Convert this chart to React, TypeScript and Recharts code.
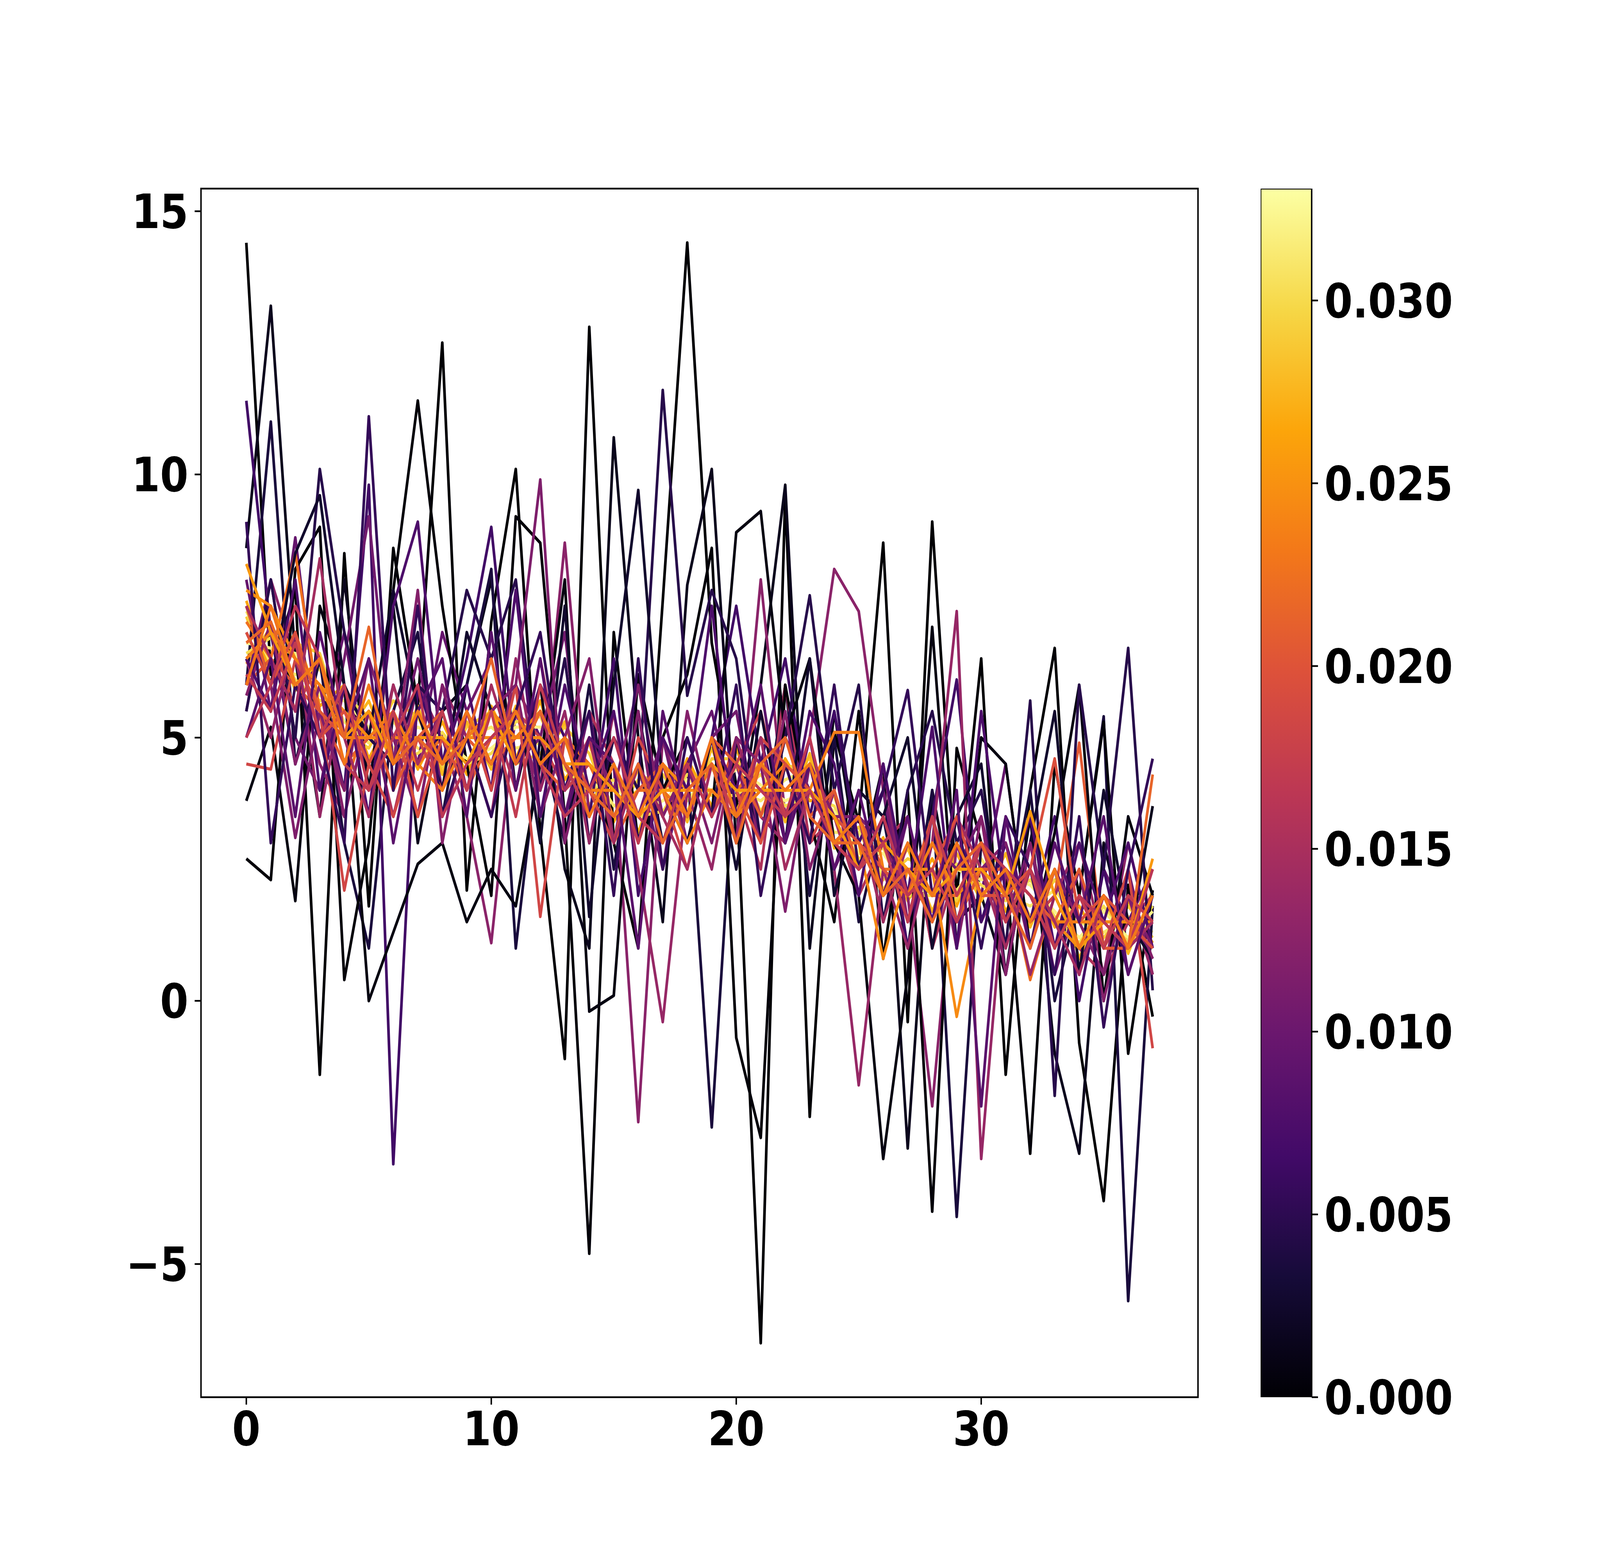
import { Bar, BarChart, Line, LineChart, ReferenceArea, XAxis, YAxis } from "recharts";

// x positions (step index)
const steps = [
  0, 1, 2, 3, 4, 5, 6, 7, 8, 9, 10, 11, 12, 13, 14, 15, 16, 17, 18, 19, 20, 21, 22, 23, 24, 25,
  26, 27, 28, 29, 30, 31, 32, 33, 34, 35, 36, 37,
];

// colour value of each line (colorbar scale)
const lineLevels = [
  0.0, 0.0003, 0.0008, 0.0015, 0.0025, 0.0035, 0.0045, 0.0055, 0.0065, 0.0075, 0.0085, 0.0095,
  0.0105, 0.0115, 0.0125, 0.0135, 0.0145, 0.0155, 0.0165, 0.0175, 0.0185, 0.0195, 0.0205, 0.0215,
  0.0225, 0.0235, 0.0245, 0.0255, 0.0265, 0.0275, 0.029, 0.03, 0.031, 0.032, 0.012, 0.017,
  0.0205, 0.023,
];

const line00 = [14.4, 6.2, 7.8, -1.4, 8.5, 1.8, 8.6, 5.6, 12.5, 2.1, 7.2, 10.1, 3.2, -1.1, 12.8, 3.0, 1.0, 7.6, 14.4, 6.8, 4.1, -6.5, 9.6, -2.2, 5.1, 3.4, 8.7, -0.4, 9.1, 2.0, 6.5, -1.4, 4.0, 6.7, -0.8, -3.8, 2.2, -0.3];
const line01 = [2.7, 2.3, 8.2, 9.0, 0.4, 3.0, 7.8, 11.4, 7.5, 4.5, 2.0, 9.2, 8.7, 3.5, -4.8, 7.0, 3.0, 5.0, 6.2, 8.6, -0.7, -2.6, 6.0, 3.5, 1.5, 5.5, 0.8, 4.0, -4.0, 4.8, 3.0, 2.5, -2.9, 4.5, 2.0, 5.3, -1.0, 2.1];
const line02 = [3.8, 5.2, 1.9, 7.5, 6.0, 0.0, 1.3, 2.6, 3.0, 1.5, 2.5, 1.8, 4.5, 8.0, -0.2, 0.1, 6.2, 4.0, 5.0, 3.5, 8.9, 9.3, 5.0, 6.5, 3.0, 2.0, -3.0, 0.5, 7.1, 1.0, 5.0, 4.5, 1.0, 3.2, 6.0, 0.0, 3.5, 2.0];
const line03 = [8.6, 13.2, 6.5, 3.5, 8.0, 4.0, 7.5, 3.0, 5.5, 6.0, 8.0, 4.0, 6.0, 2.5, 1.0, 10.7, 5.0, 1.5, 7.9, 10.1, 3.0, 6.0, 9.8, 1.0, 5.5, 2.5, 4.5, -2.8, 4.0, 1.5, 2.0, 0.5, 3.5, -1.0, -2.9, 3.0, 1.0, 3.7];
const line04 = [7.5, 6.0, 8.5, 9.6, 6.0, 5.0, 7.8, 5.5, 4.0, 7.0, 5.5, 6.0, 3.0, 7.5, 1.6, 6.0, 9.7, 4.0, 3.0, 5.0, 2.5, 5.5, 3.0, 6.5, 2.0, 4.0, 3.5, 5.0, 1.0, 3.5, 4.5, 0.5, 3.0, 5.5, 0.5, 4.0, 1.5, 0.8];
const line05 = [6.0, 11.0, 4.5, 6.5, 3.0, 1.0, 5.5, 7.0, 3.5, 6.0, 8.2, 1.0, 5.0, 3.0, 6.0, 2.5, 5.5, 3.0, 4.5, -2.4, 5.0, 3.0, 6.0, 2.0, 5.0, 1.5, 3.5, 1.0, 4.0, -4.1, 3.0, 1.5, 4.0, 0.0, 2.0, 5.4, -5.7, 1.8];
const line06 = [5.5, 8.0, 5.0, 10.1, 7.0, 5.0, 4.5, 6.0, 5.5, 7.8, 6.5, 8.0, 4.0, 6.5, 3.0, 5.0, 4.0, 11.6, 5.8, 7.8, 6.5, 3.0, 5.0, 7.7, 4.0, 6.0, 1.5, 4.0, 5.5, 3.0, 4.0, 1.0, 5.7, -1.8, 6.0, 2.5, 6.7, 0.2];
const line07 = [9.1, 3.0, 6.0, 5.0, 3.0, 11.1, 4.0, 7.5, 3.5, 5.0, 3.5, 5.5, 7.0, 4.0, 5.5, 2.0, 6.5, 2.5, 5.0, 3.5, 6.0, 2.0, 4.5, 3.0, 6.0, 2.5, 4.0, 5.9, 2.0, 3.5, 1.0, 3.5, 2.5, 0.5, 3.5, -0.5, 2.5, 4.6];
const line08 = [11.4, 7.0, 4.5, 6.0, 4.0, 9.8, -3.1, 6.0, 4.5, 6.5, 9.0, 4.5, 6.0, 5.0, 3.5, 6.5, 2.0, 4.5, 3.5, 5.0, 7.5, 4.5, 6.5, 3.5, 5.5, 3.0, 4.0, 1.0, 3.5, 6.1, 1.5, 3.0, 1.5, 3.5, 0.0, 2.5, 0.5, 2.0];
const line09 = [6.5, 5.5, 8.0, 4.0, 6.0, 3.5, 7.5, 9.1, 4.5, 6.0, 4.0, 7.8, 3.5, 6.0, 4.0, 5.5, 3.0, 5.0, 4.0, 7.5, 3.5, 5.0, 3.0, 5.5, 4.5, 2.0, 4.5, 2.0, 5.2, 1.0, 5.5, 2.0, 3.5, 1.0, 3.0, 1.5, 3.0, 1.0];
const line10 = [5.0, 6.5, 3.5, 7.0, 5.0, 6.5, 3.0, 5.5, 6.5, 3.5, 7.0, 4.0, 6.5, 3.5, 5.0, 4.5, 1.0, 5.5, 3.5, 5.0, 4.0, 6.0, 3.0, 4.5, 2.5, 4.0, 2.0, 3.5, 1.5, 4.0, -2.0, 3.5, 1.0, 3.0, 1.5, 3.5, 0.5, 2.0];
const line11 = [8.0, 5.5, 8.8, 5.0, 7.0, 4.0, 6.0, 4.5, 7.0, 5.5, 4.0, 6.0, 5.0, 3.5, 5.5, 3.0, 4.5, 2.5, 4.5, 5.5, 3.5, 5.0, 3.0, 5.0, 2.5, 3.5, 1.5, 3.5, 1.0, 3.0, 2.0, 4.5, 1.0, 2.5, 0.5, 2.5, 1.5, 2.5];
const line12 = [6.0, 8.0, 5.0, 4.0, 6.5, 9.2, 4.5, 6.5, 4.0, 5.5, 6.5, 4.5, 5.0, 7.0, 3.0, 5.0, 3.5, 5.0, 3.0, 5.0, 5.5, 3.0, 5.0, 4.0, 3.0, 2.5, 4.0, 1.5, 3.0, 2.5, 3.5, 1.5, 3.0, 0.5, 2.0, 1.0, 2.5, 0.5];
const line13 = [7.0, 6.0, 3.1, 5.5, 4.0, 6.5, 5.0, 3.5, 6.0, 4.0, 5.5, 6.0, 9.9, 3.0, 5.0, 4.0, 6.0, 3.5, 4.5, 3.0, 5.0, 4.5, 1.7, 4.5, 3.5, 3.5, 3.0, 2.0, 3.5, 1.5, 2.5, 3.0, 1.0, 2.5, 1.5, 0.5, 2.0, 1.0];
const line14 = [5.5, 8.0, 6.5, 4.5, 3.5, 5.5, 4.0, 6.0, 5.0, 3.5, 1.1, 5.5, 4.0, 8.7, 3.5, 4.5, -2.3, 5.0, 3.5, 4.5, 3.0, 8.0, 3.5, 5.0, 8.2, 7.4, 4.0, 2.0, -2.0, 3.0, 1.5, 2.5, 2.0, 1.5, 2.5, 0.5, 3.0, 1.0];
const line15 = [6.5, 5.0, 7.0, 3.5, 6.0, 4.5, 5.5, 3.5, 6.0, 5.0, 3.5, 6.5, 4.0, 5.5, 3.0, 5.5, 2.5, -0.4, 4.0, 2.5, 5.0, 3.5, 3.0, 4.5, 2.5, -1.6, 2.5, 1.0, 3.0, 7.4, -3.0, 2.5, 0.5, 2.0, 3.0, 1.0, 2.0, 0.5];
const line16 = [7.5, 6.5, 5.5, 8.4, 5.0, 3.5, 6.0, 4.5, 5.5, 4.0, 6.0, 4.5, 5.5, 4.0, 5.0, 3.0, 4.5, 3.5, 2.5, 4.5, 3.0, 5.0, 2.5, 4.0, 3.0, 3.5, 1.5, 3.0, 2.0, 3.5, 2.5, 1.0, 2.5, 1.5, 0.5, 2.0, 1.0, 1.5];
const line17 = [6.0, 7.5, 6.0, 5.0, 4.0, 5.5, 3.5, 5.5, 4.0, 5.0, 5.5, 4.0, 6.5, 4.0, 5.5, 4.5, 3.0, 4.5, 3.0, 5.0, 4.0, 2.5, 6.0, 3.0, 3.5, 2.0, 3.0, 3.5, 1.0, 2.5, 3.0, 2.0, 1.5, 2.5, 1.0, 0.5, 1.5, 2.0];
const line18 = [5.0, 6.0, 7.5, 6.5, 4.5, 4.0, 5.0, 6.0, 3.5, 4.5, 5.0, 5.5, 4.5, 3.5, 4.0, 5.0, 3.5, 3.0, 4.5, 3.5, 4.5, 4.0, 3.5, 5.0, 3.0, 2.5, 3.5, 2.0, 2.5, 1.5, 3.0, 2.5, 2.0, 1.0, 2.0, 1.5, 1.0, 2.5];
const line19 = [6.5, 7.0, 5.5, 6.5, 5.0, 5.5, 4.0, 5.5, 4.5, 5.5, 4.5, 5.5, 5.0, 4.0, 4.5, 3.5, 4.5, 3.5, 4.5, 3.5, 4.5, 5.5, 3.5, 4.5, 3.0, 3.5, 2.0, 2.5, 1.5, 3.0, 2.0, 2.5, 1.5, 2.0, 1.0, 2.0, 1.0, 1.5];
const line20 = [4.5, 4.4, 6.5, 5.5, 2.1, 4.5, 3.5, 5.0, 4.0, 5.5, 4.0, 6.0, 1.6, 5.0, 4.0, 3.0, 5.0, 4.0, 2.5, 4.5, 3.5, 5.0, 4.5, 3.0, 4.0, 2.5, 3.0, 2.0, 3.0, 2.0, 2.5, 1.5, 2.5, 1.0, 2.0, 1.0, 2.5, -0.9];
const line21 = [7.0, 6.0, 7.0, 5.0, 5.5, 4.5, 5.5, 3.5, 5.0, 4.0, 5.5, 4.5, 5.5, 4.5, 3.5, 4.5, 3.0, 4.5, 3.5, 5.0, 4.0, 3.0, 4.5, 4.0, 3.5, 3.0, 2.5, 2.0, 2.5, 3.5, 2.0, 2.0, 2.5, 4.6, 1.5, 2.0, 1.5, 1.0];
const line22 = [6.0, 6.5, 6.0, 5.5, 4.5, 5.0, 4.5, 5.5, 4.0, 5.0, 4.5, 5.0, 5.5, 4.0, 5.0, 4.0, 3.5, 4.0, 4.5, 3.5, 5.0, 4.5, 4.0, 4.5, 3.0, 3.5, 2.5, 2.5, 2.0, 2.5, 2.5, 2.0, 1.5, 2.0, 4.9, 1.0, 2.0, 1.5];
const line23 = [6.8, 7.2, 6.0, 6.5, 5.0, 7.1, 4.5, 5.0, 4.5, 5.0, 6.5, 4.5, 5.5, 4.5, 4.0, 3.5, 4.5, 3.0, 4.0, 4.5, 3.0, 4.5, 5.0, 3.5, 3.0, 3.0, 2.0, 2.5, 1.5, 2.5, 3.0, 2.0, 1.0, 2.5, 1.0, 2.0, 1.0, 4.3];
const line24 = [7.2, 6.5, 8.5, 5.5, 4.0, 5.5, 5.0, 4.5, 5.0, 4.5, 5.0, 5.5, 4.5, 5.0, 4.5, 3.5, 4.0, 4.0, 3.5, 4.5, 4.0, 4.5, 3.5, 4.0, 3.5, 3.0, 2.5, 2.5, 2.0, 2.0, 2.5, 2.5, 0.4, 2.0, 1.0, 1.5, 1.5, 1.0];
const line25 = [6.5, 7.0, 6.5, 6.0, 5.0, 5.0, 5.5, 4.5, 4.0, 5.0, 5.5, 5.0, 5.5, 4.5, 4.0, 4.0, 3.5, 4.0, 3.0, 4.0, 3.5, 4.0, 4.5, 4.0, 5.1, 5.1, 2.5, 2.0, 3.0, 2.0, 2.5, 2.0, 2.5, 1.5, 1.5, 1.5, 1.0, 2.0];
const line26 = [7.8, 7.5, 6.5, 6.0, 5.5, 5.0, 5.0, 5.0, 4.5, 5.0, 5.0, 5.0, 5.0, 4.5, 4.0, 3.5, 4.0, 4.5, 4.0, 4.0, 3.5, 4.0, 4.0, 4.5, 3.5, 3.0, 0.8, 2.5, 2.5, -0.3, 2.0, 2.5, 2.0, 1.5, 1.0, 1.5, 1.5, 1.5];
const line27 = [8.3, 7.0, 6.0, 6.5, 5.0, 5.5, 4.5, 5.0, 5.0, 4.5, 5.5, 4.5, 5.5, 4.5, 4.5, 4.0, 3.5, 4.0, 4.0, 4.5, 4.0, 4.0, 4.0, 4.0, 3.5, 2.5, 3.0, 2.5, 2.0, 2.5, 2.5, 2.0, 3.6, 2.0, 1.0, 1.5, 1.0, 2.7];
const line28 = [7.6, 6.2, 7.0, 5.6, 6.0, 4.6, 5.5, 4.4, 5.3, 4.3, 5.6, 4.6, 5.7, 4.2, 4.9, 3.4, 4.4, 3.5, 4.6, 3.7, 4.8, 3.5, 4.6, 3.8, 3.9, 2.5, 3.1, 1.9, 2.7, 1.8, 3.0, 1.7, 2.5, 1.4, 1.8, 1.0, 1.9, 1.1];
const line29 = [6.4, 7.1, 5.9, 6.5, 5.0, 5.7, 4.5, 5.6, 4.3, 5.3, 4.4, 5.6, 4.5, 5.3, 3.7, 4.5, 3.2, 4.5, 3.4, 4.8, 3.6, 4.6, 3.4, 4.7, 2.9, 3.5, 2.1, 2.9, 1.7, 2.8, 1.9, 2.8, 1.4, 2.5, 0.8, 2.0, 0.9, 2.1];
const line30 = [7.3, 6.0, 6.8, 6.6, 5.1, 4.8, 5.7, 5.4, 4.4, 5.2, 5.5, 4.5, 4.7, 5.2, 4.7, 3.5, 4.2, 4.3, 3.6, 4.6, 4.6, 3.6, 4.4, 4.6, 3.0, 3.3, 2.3, 2.7, 2.5, 1.9, 2.9, 2.5, 1.6, 2.3, 1.6, 1.2, 1.8, 1.2];
const line31 = [6.6, 6.9, 6.1, 5.7, 5.8, 5.4, 4.6, 4.7, 5.1, 4.5, 4.7, 5.3, 5.4, 4.4, 4.0, 4.2, 3.5, 3.6, 4.3, 3.9, 3.9, 4.3, 3.7, 3.9, 3.7, 2.7, 2.9, 2.0, 2.0, 2.6, 2.2, 1.9, 2.3, 1.6, 1.1, 1.8, 1.1, 1.8];
const line32 = [7.4, 6.4, 6.2, 6.3, 5.3, 4.9, 5.3, 4.8, 4.6, 5.0, 5.2, 4.8, 4.9, 4.5, 4.5, 3.7, 4.0, 4.1, 3.8, 4.4, 4.0, 3.8, 4.2, 4.4, 3.2, 3.2, 2.4, 2.5, 2.4, 2.1, 2.7, 2.0, 1.8, 2.1, 1.5, 1.3, 1.6, 1.3];
const line33 = [6.8, 6.7, 6.6, 5.8, 5.7, 5.2, 4.8, 5.2, 5.0, 4.6, 4.8, 5.2, 5.2, 4.9, 4.1, 4.1, 3.6, 3.8, 4.2, 4.0, 4.4, 4.1, 3.8, 4.0, 3.6, 2.8, 2.8, 2.1, 2.1, 2.5, 2.3, 2.4, 2.2, 1.7, 1.2, 1.7, 1.2, 1.7];
const line34 = [5.8, 7.2, 4.5, 6.0, 3.5, 5.5, 4.5, 7.8, 3.0, 5.5, 4.5, 6.0, 3.5, 5.0, 6.5, 3.0, 5.5, 2.5, 5.5, 3.5, 4.5, 3.0, 5.5, 2.5, 4.0, 2.0, 4.5, 1.5, 3.5, 1.0, 3.5, 0.5, 3.0, 1.0, 2.5, 0.0, 2.0, 0.8];
const line35 = [6.2, 5.5, 6.8, 5.0, 6.0, 4.0, 5.5, 4.0, 5.5, 4.0, 5.5, 3.5, 6.0, 4.5, 3.5, 4.5, 3.0, 4.5, 3.5, 5.0, 3.0, 4.5, 3.5, 4.0, 3.0, 2.5, 3.0, 1.5, 3.5, 2.0, 3.0, 1.5, 2.5, 1.0, 2.0, 1.0, 2.0, 1.5];
const line36 = [7.5, 6.0, 7.0, 5.5, 5.0, 5.5, 4.0, 5.0, 5.5, 4.0, 5.0, 5.5, 4.5, 4.0, 5.0, 3.0, 4.0, 4.5, 3.5, 5.0, 4.5, 3.5, 5.0, 3.5, 4.0, 2.5, 3.5, 2.0, 3.5, 1.5, 2.5, 2.5, 2.0, 1.5, 2.5, 1.0, 1.0, 2.0];
const line37 = [6.0, 7.5, 6.0, 6.5, 4.5, 6.0, 4.5, 5.5, 4.5, 5.5, 4.5, 5.5, 4.5, 5.0, 3.5, 4.5, 3.5, 4.5, 3.5, 5.0, 3.5, 4.5, 4.0, 4.5, 3.0, 3.5, 2.0, 3.0, 2.0, 3.0, 2.0, 2.5, 1.5, 2.5, 1.0, 2.0, 1.0, 2.0];

const lines = [
  line00, line01, line02, line03, line04, line05, line06, line07, line08, line09, line10, line11,
  line12, line13, line14, line15, line16, line17, line18, line19, line20, line21, line22, line23,
  line24, line25, line26, line27, line28, line29, line30, line31, line32, line33, line34, line35,
  line36, line37,
];

// painting order (mixed, the pale lines sit under the orange/red ones)
const drawOrder = [
  28, 30, 0, 32, 11, 3, 29, 14, 5, 31, 17, 1, 33, 8, 22, 2, 12, 19, 6, 24, 15, 4, 34, 26, 9, 20,
  13, 36, 7, 25, 16, 21, 10, 27, 18, 35, 23, 37,
];

const xTicks = [0, 10, 20, 30];
const yTicks = [-5, 0, 5, 10, 15];
const cbarTicks = [0, 0.005, 0.01, 0.015, 0.02, 0.025, 0.03];
const cbarMax = 0.03306;

// inferno colormap anchor colours
const INFERNO = [
  "#000004", "#160b39", "#420a68", "#6a176e", "#932667", "#bc3754",
  "#dd513a", "#f37819", "#fca50a", "#f6d746", "#fcffa4",
];

function inferno(t: number) {
  const v = Math.max(0, Math.min(1, t)) * (INFERNO.length - 1);
  const i = Math.min(INFERNO.length - 2, Math.floor(v));
  const f = v - i;
  const a = INFERNO[i];
  const b = INFERNO[i + 1];
  const ch = (h: string, k: number) => parseInt(h.slice(1 + 2 * k, 3 + 2 * k), 16);
  const mix = [0, 1, 2].map((k) => Math.round(ch(a, k) + (ch(b, k) - ch(a, k)) * f));
  return `rgb(${mix[0]},${mix[1]},${mix[2]})`;
}

const rows = steps.map((x, i) => {
  const row: Record<string, number> = { x };
  lines.forEach((vals, j) => {
    row[`s${j}`] = vals[i];
  });
  return row;
});

const FONT = 122;
const tickStyle = { fontSize: FONT, fontWeight: "bold" as const, fill: "#000", fontFamily: "DejaVu Sans" };
const fmtY = (v: number) => (v < 0 ? `\u2212${Math.abs(v)}` : `${v}`);

export default function App() {
  // the page may be narrower than the 4800px figure; squeeze horizontally to fit
  const vw = typeof window !== "undefined" ? window.innerWidth : 4800;
  const sx = Math.min(1, vw / 4800);
  return (
    <div
      style={{
        position: "absolute",
        left: 0,
        top: 0,
        width: 4800,
        height: 4000,
        background: "#fff",
        transform: `scaleX(${sx})`,
        transformOrigin: "0 0",
      }}
    >
      <div style={{ position: "absolute", left: 0, top: 0 }}>
        <LineChart
          width={3700}
          height={4000}
          data={rows}
          margin={{ top: 483, right: 106, bottom: 222, left: 0 }}
        >
          <XAxis
            dataKey="x"
            type="number"
            domain={[-1.85, 38.85]}
            ticks={xTicks}
            allowDataOverflow
            height={200}
            axisLine={false}
            tickLine={{ stroke: "#000", strokeWidth: 4.4 }}
            tickSize={19}
            tickMargin={17}
            tick={tickStyle}
          />
          <YAxis
            type="number"
            domain={[-7.53, 15.43]}
            ticks={yTicks}
            allowDataOverflow
            width={603}
            axisLine={false}
            tickLine={{ stroke: "#000", strokeWidth: 4.4 }}
            tickSize={19}
            tickMargin={19}
            tick={tickStyle}
            tickFormatter={fmtY}
          />
          {drawOrder.map((j) => (
            <Line
              key={j}
              type="linear"
              dataKey={`s${j}`}
              stroke={inferno(lineLevels[j] / cbarMax)}
              strokeWidth={8}
              strokeLinejoin="round"
              dot={false}
              activeDot={false}
              isAnimationActive={false}
            />
          ))}
          <ReferenceArea
            x1={-1.85}
            x2={38.85}
            y1={-7.53}
            y2={15.43}
            fill="none"
            fillOpacity={0}
            stroke="#000"
            strokeWidth={4.4}
            ifOverflow="visible"
          />
        </LineChart>
      </div>
      <div style={{ position: "absolute", left: 3782, top: 0 }}>
        <BarChart
          width={1000}
          height={4000}
          data={[{ name: "c", v: cbarMax }]}
          margin={{ top: 483, right: 0, bottom: 422, left: 0 }}
          barCategoryGap={0}
        >
          <defs>
            <linearGradient id="infernoBar" x1="0" y1="1" x2="0" y2="0">
              {INFERNO.map((c, i) => (
                <stop key={i} offset={`${(i / (INFERNO.length - 1)) * 100}%`} stopColor={c} />
              ))}
            </linearGradient>
          </defs>
          <XAxis dataKey="name" hide height={0} />
          <YAxis
            orientation="right"
            type="number"
            domain={[0, cbarMax]}
            ticks={cbarTicks}
            allowDataOverflow
            width={847}
            axisLine={false}
            tickLine={{ stroke: "#000", strokeWidth: 4.4 }}
            tickSize={19}
            tickMargin={19}
            tick={tickStyle}
            tickFormatter={(v: number) => v.toFixed(3)}
          />
          <Bar
            dataKey="v"
            fill="url(#infernoBar)"
            stroke="#000"
            strokeWidth={4.4}
            isAnimationActive={false}
          />
        </BarChart>
      </div>
    </div>
  );
}
